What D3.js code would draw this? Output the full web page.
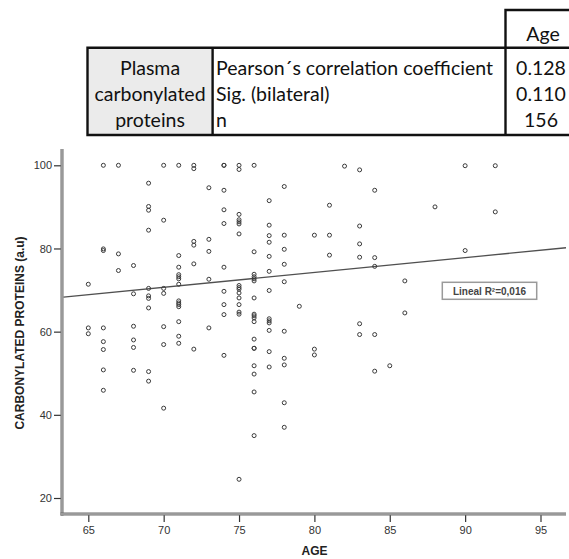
<!DOCTYPE html>
<html>
<head>
<meta charset="utf-8">
<script src="https://cdn.jsdelivr.net/npm/d3@7"></script>
<style>
  html, body { margin: 0; padding: 0; background: #fff; }
  svg { display: block; }
</style>
</head>
<body>
<svg id="chart" width="569" height="559"></svg>
<script>
// Correlation table
const tableRowLabel = ["Plasma", "carbonylated", "proteins"];
const tableStats = ["Pearson\u00b4s correlation coefficient", "Sig. (bilateral)", "n"];
const tableValues = ["0.128", "0.110", "156"];
const tableHeader = "Age";

// Scatter data: each age and the carbonylated protein values measured at it
const ages = [65, 66, 67, 68, 69, 70, 71, 72, 73, 74, 75, 76, 77, 78, 79, 80, 81, 82, 83, 84, 85, 86, 88, 90, 92];
const valuesByAge = [
  [71.4, 60.9, 59.5],
  [100, 79.9, 79.5, 60.9, 57.6, 55.7, 50.8, 45.9],
  [100, 78.7, 74.7],
  [75.9, 69.1, 61.3, 58.0, 56.2, 50.7],
  [95.7, 90.1, 89.2, 84.4, 70.4, 68.6, 68.0, 65.7, 50.4, 48.1],
  [100, 86.8, 70.4, 69.2, 61.2, 56.9, 41.6],
  [100, 78.3, 75.5, 73.7, 73.2, 72.7, 71.4, 67.4, 66.9, 66.5, 66.0, 62.4, 58.9, 57.2],
  [100, 99.2, 81.7, 80.8, 76.3, 55.8],
  [94.6, 82.2, 79.3, 72.6, 60.9],
  [100, 100, 94.0, 89.3, 86.0, 75.5, 69.7, 66.5, 64.1, 54.3],
  [100, 99.0, 88.2, 86.9, 86.4, 85.9, 83.5, 71.1, 70.6, 70.2, 69.3, 68.1, 66.5, 64.7, 64.2, 24.5],
  [100, 79.2, 73.8, 73.2, 72.7, 72.2, 68.1, 64.2, 63.8, 63.3, 62.4, 58.2, 56.0, 56.0, 51.8, 49.8, 45.5, 35.0],
  [91.5, 85.6, 83.1, 81.5, 78.1, 74.5, 69.9, 63.1, 62.6, 62.1, 60.3, 55.2, 51.5],
  [94.9, 83.2, 79.8, 76.2, 72.0, 60.1, 53.6, 52.0, 42.9, 37.0],
  [66.1],
  [83.2, 55.8, 54.4],
  [90.4, 83.2, 78.4],
  [99.8],
  [98.9, 85.4, 81.1, 77.9, 61.9, 59.3],
  [94.0, 77.8, 75.7, 59.3, 50.5],
  [51.8],
  [72.2, 64.5],
  [90.0],
  [99.9, 79.5],
  [99.9, 88.8]
];

// Linear fit: value = intercept + slope * age
const fitIntercept = [45.66];
const fitSlope = [0.357];
const fitLabel = "Lineal R\u00b2=0,016";

const xTicks = [65, 70, 75, 80, 85, 90, 95];
const yTicks = [20, 40, 60, 80, 100];
const xTitle = "AGE";
const yTitle = "CARBONYLATED PROTEINS (a.u)";

const points = [];
ages.forEach((a, i) => valuesByAge[i].forEach(v => points.push({ age: a, value: v })));

const svg = d3.select("#chart");

// ---------- table ----------
const tbl = svg.append("g").attr("class", "table");
const tFont = "Lato, 'Open Sans', sans-serif";
const tSize = 19.5;
const colX = [87.5, 212.6, 505.5, 600];
const rowTop = 47.7, rowBottom = 135, headTop = 10;

tbl.append("rect").attr("x", colX[0]).attr("y", rowTop)
  .attr("width", colX[1] - colX[0]).attr("height", rowBottom - rowTop)
  .attr("fill", "#ebebeb");

const blk = "#111";
// outer body frame
tbl.append("path")
  .attr("d", `M${colX[3]},${rowTop} H${colX[0]} V${rowBottom} H${colX[3]}`)
  .attr("fill", "none").attr("stroke", blk).attr("stroke-width", 2.4);
// column dividers
[colX[1], colX[2]].forEach(x => {
  tbl.append("line").attr("x1", x).attr("x2", x).attr("y1", rowTop).attr("y2", rowBottom)
    .attr("stroke", blk).attr("stroke-width", 2.4);
});
// header cell
tbl.append("path")
  .attr("d", `M${colX[2]},${rowTop} V${headTop} H${colX[3]}`)
  .attr("fill", "none").attr("stroke", blk).attr("stroke-width", 2.4);

const rowBase = [75, 101, 126.5];
tbl.selectAll("text.rl").data(tableRowLabel).join("text")
  .attr("class", "rl")
  .attr("x", (colX[0] + colX[1]) / 2).attr("y", (d, i) => rowBase[i])
  .attr("text-anchor", "middle")
  .attr("font-family", tFont).attr("font-size", tSize).attr("fill", "#111")
  .text(d => d);
tbl.selectAll("text.st").data(tableStats).join("text")
  .attr("class", "st")
  .attr("x", 216).attr("y", (d, i) => rowBase[i])
  .attr("font-family", tFont).attr("font-size", tSize).attr("fill", "#111")
  .text(d => d);
tbl.selectAll("text.vl").data(tableValues).join("text")
  .attr("class", "vl")
  .attr("x", 541).attr("y", (d, i) => rowBase[i])
  .attr("text-anchor", "middle")
  .attr("font-family", tFont).attr("font-size", tSize).attr("fill", "#111")
  .text(d => d);
tbl.append("text").attr("x", 543).attr("y", 40.5).attr("text-anchor", "middle")
  .attr("font-family", tFont).attr("font-size", tSize).attr("fill", "#111")
  .text(tableHeader);

// ---------- scatter plot ----------
const x = d3.scaleLinear().domain([65, 95]).range([88.3, 540.5]);
const y = d3.scaleLinear().domain([20, 100]).range([498, 165.3]);
const axisX0 = 62, axisX1 = 566, axisY0 = 514, axisY1 = 149;
const aFont = "Arial, 'Liberation Sans', sans-serif";

const plot = svg.append("g").attr("class", "plot");

// axes
const yAxis = d3.axisLeft(y).tickValues(yTicks).tickSize(8).tickPadding(2).tickFormat(d3.format("d"));
const xAxis = d3.axisBottom(x).tickValues(xTicks).tickSize(8).tickPadding(4).tickFormat(d3.format("d"));

const gy = plot.append("g").attr("transform", `translate(${axisX0},0)`).call(yAxis);
const gx = plot.append("g").attr("transform", `translate(0,${axisY0})`).call(xAxis);
[gy, gx].forEach(g => {
  g.select(".domain").remove();
  g.selectAll(".tick line").attr("stroke", "#333").attr("stroke-width", 1.2);
  g.selectAll(".tick text").attr("font-family", aFont).attr("font-size", 11).attr("fill", "#333");
});

// double-line axis rules
const rule = (x1, y1, x2, y2) => {
  plot.append("line").attr("x1", x1).attr("y1", y1).attr("x2", x2).attr("y2", y2)
    .attr("stroke", "#6a6a6a").attr("stroke-width", 3);
  plot.append("line").attr("x1", x1).attr("y1", y1).attr("x2", x2).attr("y2", y2)
    .attr("stroke", "#c8c8c8").attr("stroke-width", 1);
};
rule(axisX0, axisY1, axisX0, axisY0 + 1.5);
rule(axisX0 - 1.5, axisY0, axisX1, axisY0);

// fit line across the plotting range
const ageMin = x.invert(axisX0 + 1.5), ageMax = x.invert(axisX1);
plot.append("line")
  .attr("x1", x(ageMin)).attr("y1", y(fitIntercept[0] + fitSlope[0] * ageMin))
  .attr("x2", x(ageMax)).attr("y2", y(fitIntercept[0] + fitSlope[0] * ageMax))
  .attr("stroke", "#505050").attr("stroke-width", 1.3);

// points
plot.append("g").selectAll("circle").data(points).join("circle")
  .attr("cx", d => x(d.age)).attr("cy", d => y(d.value)).attr("r", 2)
  .attr("fill", "none").attr("stroke", "#3a3a3a").attr("stroke-width", 1);

// fit label
const lab = plot.append("g");
lab.append("rect").attr("x", 442.3).attr("y", 282.3).attr("width", 94.4).attr("height", 17)
  .attr("fill", "#fff").attr("stroke", "#9a9a9a").attr("stroke-width", 1.5);
lab.append("text").attr("x", 489.5).attr("y", 294.6).attr("text-anchor", "middle")
  .attr("font-family", aFont).attr("font-size", 10).attr("font-weight", "bold").attr("fill", "#444")
  .text(fitLabel);

// axis titles
plot.append("text").attr("x", 314.5).attr("y", 555).attr("text-anchor", "middle")
  .attr("font-family", aFont).attr("font-size", 12).attr("font-weight", "bold").attr("fill", "#222")
  .text(xTitle);
plot.append("text").attr("transform", "translate(24,333) rotate(-90)").attr("text-anchor", "middle")
  .attr("font-family", aFont).attr("font-size", 12).attr("font-weight", "bold").attr("fill", "#222")
  .text(yTitle);
</script>
</body>
</html>
